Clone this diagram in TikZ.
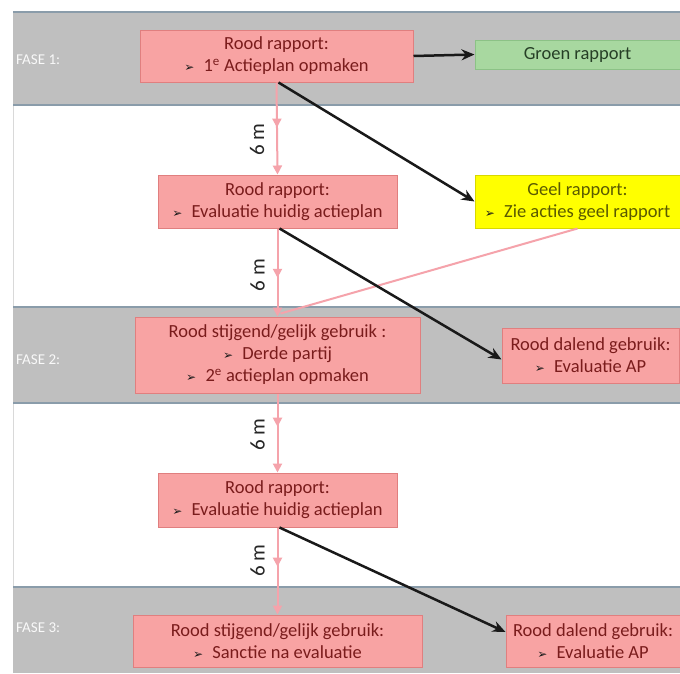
\documentclass[tikz,border=0pt]{standalone}
\usepackage{fontspec}
\setmainfont{Carlito}
\newfontfamily\dejavu{DejaVu Sans}
\usetikzlibrary{arrows.meta,decorations.markings}
\definecolor{bandgray}{HTML}{BFBFBF}
\definecolor{bandline}{HTML}{8A9CAA}
\definecolor{redfill}{HTML}{F8A3A3}
\definecolor{reddraw}{HTML}{E07F7F}
\definecolor{redtext}{HTML}{7A1C1C}
\definecolor{greenfill}{HTML}{A8D8A0}
\definecolor{greendraw}{HTML}{8CC286}
\definecolor{greentext}{HTML}{263F26}
\definecolor{yellowfill}{HTML}{FFFF00}
\definecolor{yellowdraw}{HTML}{D8D800}
\definecolor{yellowtext}{HTML}{5A5A00}
\definecolor{pinkline}{HTML}{F5A3AB}
\newcommand{\myarrow}{{\color{black!90}\dejavu\fontsize{12}{12}\selectfont ➢}\hspace{0.5em}}
\tikzset{
  boxbase/.style={inner sep=0pt, align=center, font=\fontsize{18.5}{22}\selectfont, line width=1pt},
  redbox/.style={boxbase, fill=redfill, draw=reddraw, text=redtext},
  greenbox/.style={boxbase, fill=greenfill, draw=greendraw, text=greentext},
  yellowbox/.style={boxbase, fill=yellowfill, draw=yellowdraw, text=yellowtext},
  faselabel/.style={anchor=west, inner sep=0pt, text=white!95!gray, font=\fontsize{15}{15}\selectfont},
  pinkarr/.style={draw=pinkline, line width=2pt, -{Triangle[width=9pt,length=9pt]},
    postaction={decorate},
    decoration={markings, mark=at position #1 with {\arrow{Triangle[width=9pt,length=9pt]}}}},
  pinkarr/.default=0.5,
  pinkline/.style={draw=pinkline, line width=2pt},
  blackarr/.style={draw=black!90, line width=2.5pt, -{Stealth[length=13pt,width=11pt]}},
  monthlabel/.style={rotate=90, inner sep=0pt, text=black!85, font=\fontsize{21}{21}\selectfont}
}
\begin{document}
\begin{tikzpicture}[x=1pt,y=-1pt]
\useasboundingbox (0,0) rectangle (680,673);
\fill[white] (0,0) rectangle (680,673);
\draw[black!15, line width=1pt] (13,12) -- (13,673);
% bands
\fill[bandgray] (13,12) rectangle (680,105);
\fill[bandgray] (13,307) rectangle (680,403);
\fill[bandgray] (13,587) rectangle (680,673);
\draw[bandline, line width=2pt] (13,12) -- (680,12) (13,105) -- (680,105)
  (13,307) -- (680,307) (13,403) -- (680,403) (13,587) -- (680,587);
% phase labels
\node[faselabel] (f1) at (16,60) {FASE 1:};
\node[faselabel] (f2) at (16,360) {FASE 2:};
\node[faselabel] (f3) at (16,628) {FASE 3:};
% boxes
\node[redbox, minimum width=273pt, minimum height=52pt] (A) at (276.5,56)
  {Rood rapport:\\ \myarrow 1\textsuperscript{e} Actieplan opmaken};
\node[greenbox, minimum width=205pt, minimum height=29pt] (G) at (577.5,54.5) {Groen rapport};
\node[redbox, minimum width=239pt, minimum height=53pt] (B) at (277.5,201.5)
  {Rood rapport:\\ \myarrow Evaluatie huidig actieplan};
\node[yellowbox, minimum width=205pt, minimum height=53pt] (Y) at (577.5,201.5)
  {Geel rapport:\\ \myarrow Zie acties geel rapport};
\node[redbox, minimum width=285pt, minimum height=76pt] (C) at (277.5,355)
  {Rood stijgend/gelijk gebruik :\\ \myarrow Derde partij\\ \myarrow 2\textsuperscript{e} actieplan opmaken};
\node[redbox, minimum width=177pt, minimum height=55pt] (D2) at (590.5,355.5)
  {Rood dalend gebruik:\\ \myarrow Evaluatie AP};
\node[redbox, minimum width=239pt, minimum height=54pt] (D) at (277.5,500)
  {Rood rapport:\\ \myarrow Evaluatie huidig actieplan};
\node[redbox, minimum width=289pt, minimum height=52pt] (E) at (277.5,641)
  {Rood stijgend/gelijk gebruik:\\ \myarrow Sanctie na evaluatie};
\node[redbox, minimum width=174pt, minimum height=52pt] (D3) at (593,641)
  {Rood dalend gebruik:\\ \myarrow Evaluatie AP};
% pink connectors
\draw[pinkarr=0.49] (A.south) -- (B.north) node[xshift=-20pt, monthlabel, pos=0.62] (m1) {6 m};
\draw[pinkarr=0.56] (B.south) -- (C.north) node[xshift=-20pt, monthlabel, pos=0.53] (m2) {6 m};
\draw[pinkarr=0.42] (C.south) -- (D.north) node[xshift=-20pt, monthlabel, pos=0.52] (m3) {6 m};
\draw[pinkarr=0.45] (D.south) -- (E.north) node[xshift=-20pt, monthlabel, pos=0.38] (m4) {6 m};
\draw[pinkline] (Y.south) -- ([xshift=3pt,yshift=3pt]C.north);
% black connectors
\draw[blackarr] (A.east) -- (G.west);
\draw[blackarr] ([xshift=2pt]A.south) -- (Y.west);
\draw[blackarr] ([xshift=2pt]B.south) -- ([yshift=-4pt]D2.west);
\draw[blackarr] ([xshift=2pt]D.south) -- ([yshift=9pt]D3.west);
\end{tikzpicture}
\end{document}
